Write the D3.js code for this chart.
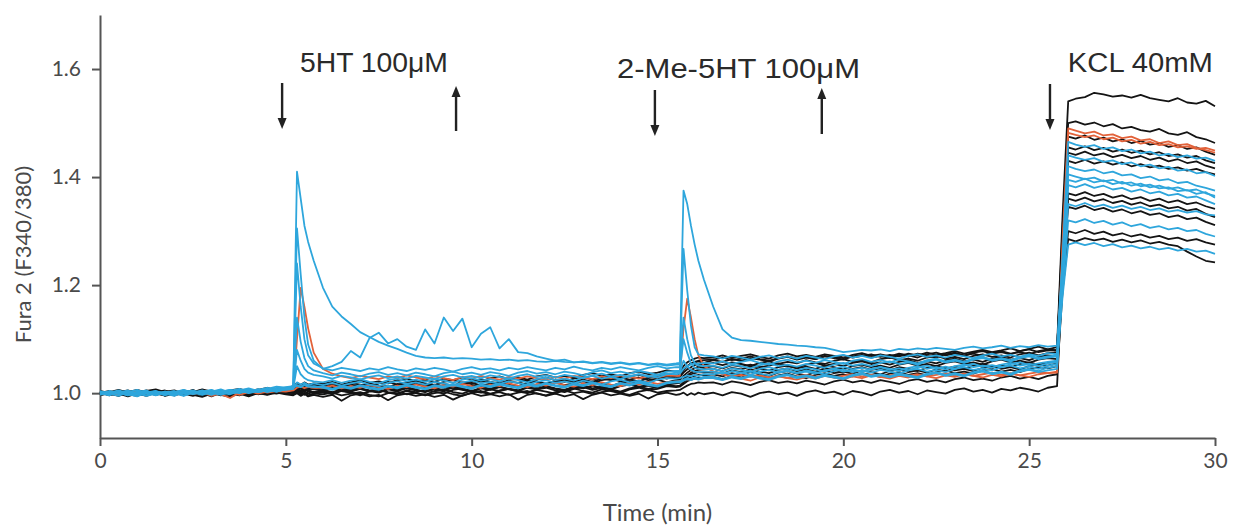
<!DOCTYPE html>
<html><head><meta charset="utf-8">
<script src="https://cdn.jsdelivr.net/npm/d3@7"></script>
<style>body{margin:0;background:#fff}svg{display:block;background:#fff}</style>
</head><body><svg id="chart" width="1235" height="529"></svg>
<script>
// ---------- DATA ----------
const times = [
0,0.25,0.5,0.75,1,1.25,1.5,1.75,2,2.25,2.5,2.75,3,3.25,3.5,3.75,4,4.25,4.5,4.75,5,
5.2,5.3,5.4,5.5,5.6,5.75,
6,6.25,6.5,6.75,7,7.25,7.5,7.75,8,8.25,8.5,8.75,9,9.25,9.5,9.75,10,10.25,10.5,10.75,11,11.25,11.5,11.75,12,12.25,12.5,12.75,13,13.25,13.5,13.75,14,14.25,14.5,14.75,15,15.25,15.5,
15.6,15.7,15.8,15.9,16,16.1,16.25,
16.5,16.75,17,17.25,17.5,17.75,18,18.25,18.5,18.75,19,19.25,19.5,19.75,20,20.25,20.5,20.75,21,21.25,21.5,21.75,22,22.25,22.5,22.75,23,23.25,23.5,23.75,24,24.25,24.5,24.75,25,25.25,25.5,25.75,
25.9,26.05,26.25,26.5,26.75,27,27.25,27.5,27.75,28,28.25,28.5,28.75,29,29.25,29.5,29.75,30
];

// black traces
const k1 = [
1.002,0.998,1.004,0.997,1.001,1.005,0.999,0.996,1.003,1.000,1.006,0.998,1.002,1.004,0.999,1.003,1.007,1.001,1.005,1.008,1.006,
1.010,1.017,1.013,1.018,1.012,1.016,
1.013,1.018,1.014,1.019,1.016,1.012,1.018,1.021,1.016,1.019,1.023,1.018,1.015,1.021,1.024,1.019,1.022,1.026,1.021,1.018,1.024,1.027,1.022,1.025,1.029,1.024,1.021,1.027,1.030,1.025,1.029,1.033,1.027,1.031,1.034,1.029,1.032,1.036,1.033,
1.036,1.044,1.050,1.055,1.057,1.059,1.056,
1.061,1.058,1.063,1.060,1.065,1.062,1.059,1.064,1.067,1.062,1.066,1.063,1.068,1.065,1.070,1.066,1.069,1.072,1.067,1.071,1.068,1.073,1.070,1.075,1.071,1.074,1.078,1.073,1.077,1.080,1.076,1.079,1.083,1.078,1.082,1.086,1.081,1.085,
1.330,1.540,1.545,1.548,1.556,1.553,1.549,1.551,1.547,1.552,1.546,1.543,1.540,1.546,1.538,1.536,1.541,1.531];
const k2 = [
0.999,1.003,0.996,1.001,1.004,0.998,1.002,1.005,0.997,1.001,0.999,1.004,1.000,0.996,1.003,1.006,1.000,1.004,1.002,1.007,1.004,
1.006,1.012,1.008,1.013,1.009,1.011,
1.008,1.013,1.009,1.006,1.012,1.015,1.010,1.013,1.009,1.014,1.017,1.012,1.016,1.013,1.010,1.016,1.019,1.014,1.017,1.021,1.016,1.013,1.019,1.022,1.017,1.020,1.024,1.019,1.022,1.018,1.024,1.027,1.022,1.025,1.029,1.024,1.027,1.031,1.028,
1.030,1.038,1.044,1.048,1.052,1.054,1.053,
1.056,1.052,1.057,1.054,1.050,1.056,1.059,1.054,1.058,1.055,1.061,1.057,1.054,1.060,1.063,1.058,1.061,1.057,1.063,1.066,1.061,1.064,1.060,1.066,1.069,1.064,1.067,1.063,1.069,1.072,1.067,1.070,1.066,1.072,1.075,1.070,1.074,1.076,
1.310,1.500,1.503,1.497,1.501,1.494,1.498,1.490,1.493,1.487,1.484,1.489,1.481,1.478,1.483,1.474,1.470,1.463];
const k3 = [
1.001,0.997,1.002,1.005,0.999,0.995,1.001,1.003,0.998,1.004,1.000,0.996,1.002,1.005,0.998,1.001,1.004,0.999,1.006,1.003,1.005,
1.004,1.009,1.005,1.010,1.006,1.008,
1.005,1.010,1.006,1.011,1.008,1.004,1.010,1.013,1.008,1.011,1.007,1.012,1.015,1.010,1.013,1.009,1.015,1.012,1.008,1.014,1.017,1.012,1.015,1.011,1.017,1.020,1.015,1.018,1.014,1.020,1.017,1.013,1.019,1.022,1.018,1.021,1.025,1.020,1.024,
1.025,1.032,1.038,1.043,1.046,1.049,1.047,
1.050,1.046,1.052,1.049,1.053,1.048,1.051,1.055,1.050,1.047,1.053,1.056,1.051,1.054,1.050,1.056,1.059,1.054,1.057,1.053,1.058,1.061,1.056,1.059,1.055,1.061,1.064,1.059,1.062,1.058,1.064,1.067,1.062,1.065,1.061,1.067,1.070,1.068,
1.290,1.475,1.471,1.477,1.469,1.473,1.466,1.470,1.463,1.467,1.460,1.463,1.456,1.459,1.452,1.455,1.447,1.441];
const k4 = [
1.004,1.000,0.996,1.002,1.006,1.001,0.997,1.003,1.005,0.999,1.002,1.006,0.998,1.003,1.001,0.997,1.004,1.007,1.001,1.005,1.008,
1.011,1.016,1.012,1.009,1.015,1.013,
1.010,1.015,1.011,1.016,1.013,1.018,1.014,1.011,1.017,1.014,1.019,1.016,1.021,1.017,1.014,1.020,1.017,1.022,1.019,1.016,1.022,1.019,1.024,1.020,1.017,1.023,1.026,1.022,1.025,1.021,1.027,1.024,1.029,1.025,1.022,1.028,1.031,1.027,1.032,
1.033,1.042,1.050,1.055,1.058,1.060,1.061,
1.062,1.066,1.061,1.064,1.068,1.063,1.060,1.065,1.068,1.064,1.067,1.063,1.069,1.066,1.062,1.068,1.071,1.066,1.069,1.065,1.071,1.068,1.073,1.069,1.066,1.072,1.075,1.070,1.073,1.069,1.075,1.078,1.073,1.076,1.072,1.078,1.081,1.079,
1.290,1.455,1.451,1.457,1.450,1.454,1.447,1.451,1.445,1.449,1.442,1.446,1.439,1.442,1.436,1.439,1.431,1.426];
const k5 = [
0.997,1.001,1.004,0.998,0.995,1.002,1.005,0.999,1.001,0.996,1.003,1.000,0.994,1.001,1.004,0.999,0.997,1.002,1.000,1.004,1.002,
1.003,1.007,1.002,1.006,1.004,1.001,
1.004,1.000,1.006,1.003,1.008,1.004,1.001,1.007,1.004,1.009,1.005,1.002,1.008,1.005,1.010,1.006,1.003,1.009,1.006,1.011,1.007,1.004,1.010,1.007,1.012,1.008,1.005,1.011,1.014,1.009,1.012,1.008,1.014,1.017,1.012,1.015,1.011,1.017,1.020,
1.020,1.026,1.031,1.035,1.037,1.039,1.038,
1.040,1.036,1.042,1.039,1.044,1.040,1.037,1.043,1.046,1.041,1.044,1.040,1.046,1.043,1.039,1.045,1.048,1.043,1.046,1.042,1.048,1.045,1.041,1.047,1.050,1.046,1.049,1.045,1.051,1.054,1.049,1.052,1.048,1.054,1.057,1.053,1.056,1.059,
1.280,1.445,1.441,1.447,1.440,1.444,1.437,1.441,1.435,1.439,1.432,1.436,1.429,1.433,1.426,1.429,1.421,1.416];
const k6 = [
1.000,1.004,0.999,0.994,1.000,1.003,0.997,1.001,0.996,1.002,0.998,1.001,1.004,0.997,0.993,1.000,1.003,0.998,1.001,0.999,1.003,
1.000,1.005,1.001,0.997,1.003,1.000,
1.002,0.998,1.004,1.001,0.996,1.003,1.006,1.001,0.998,1.004,1.000,0.997,1.004,1.007,1.002,0.999,1.005,1.002,0.998,1.005,1.008,1.003,1.000,1.006,1.003,0.999,1.006,1.009,1.004,1.001,1.007,1.004,1.000,1.007,1.010,1.005,1.008,1.013,1.011,
1.012,1.017,1.022,1.025,1.027,1.029,1.028,
1.030,1.026,1.032,1.029,1.034,1.030,1.027,1.033,1.036,1.031,1.028,1.034,1.037,1.032,1.035,1.031,1.037,1.034,1.030,1.036,1.039,1.034,1.037,1.033,1.039,1.042,1.037,1.040,1.036,1.042,1.045,1.040,1.043,1.039,1.045,1.048,1.046,1.050,
1.250,1.370,1.366,1.372,1.365,1.369,1.362,1.366,1.359,1.363,1.356,1.360,1.353,1.357,1.350,1.353,1.346,1.341];
const k7 = [
1.003,0.998,1.001,1.004,0.997,0.999,1.003,0.995,0.999,1.002,0.997,0.993,0.999,1.002,0.996,0.999,0.994,1.000,0.997,1.001,0.998,
0.996,1.000,0.995,0.999,0.994,0.997,
0.993,0.997,0.986,0.996,0.999,0.994,0.997,0.987,0.996,0.999,0.995,0.998,0.993,0.997,0.988,0.996,1.000,0.995,0.998,0.994,0.998,0.988,0.997,1.000,0.995,0.999,0.994,0.998,0.989,0.997,1.001,0.996,0.999,0.995,0.999,0.990,0.998,1.001,0.997,
0.998,1.001,0.996,1.000,0.997,1.001,0.998,
1.001,0.996,1.002,0.999,0.993,1.000,1.003,0.998,1.001,0.995,1.002,1.005,1.000,1.003,0.997,1.004,1.001,0.996,1.003,1.006,1.001,1.004,0.998,1.005,1.002,0.999,1.006,1.009,1.003,1.006,1.001,1.008,1.005,1.010,1.007,1.003,1.010,1.013,
1.220,1.345,1.341,1.347,1.339,1.343,1.336,1.340,1.333,1.337,1.330,1.333,1.326,1.329,1.322,1.325,1.317,1.311];
const k8 = [
0.998,1.002,1.006,1.001,0.998,1.004,1.007,1.002,0.999,1.005,1.002,1.007,1.003,0.999,1.005,1.008,1.003,1.006,1.010,1.005,1.009,
1.013,1.019,1.015,1.020,1.016,1.018,
1.017,1.021,1.016,1.020,1.024,1.019,1.022,1.018,1.024,1.027,1.022,1.025,1.021,1.027,1.024,1.029,1.025,1.022,1.028,1.031,1.026,1.029,1.025,1.031,1.034,1.029,1.032,1.028,1.034,1.037,1.032,1.035,1.031,1.037,1.040,1.035,1.038,1.042,1.040,
1.041,1.050,1.057,1.061,1.064,1.066,1.065,
1.066,1.070,1.065,1.069,1.072,1.067,1.064,1.070,1.073,1.068,1.071,1.067,1.072,1.069,1.065,1.071,1.074,1.069,1.072,1.068,1.073,1.070,1.066,1.072,1.075,1.070,1.073,1.069,1.075,1.078,1.073,1.076,1.072,1.078,1.081,1.076,1.079,1.080,
1.280,1.430,1.426,1.432,1.425,1.429,1.423,1.427,1.420,1.424,1.418,1.421,1.415,1.418,1.412,1.415,1.409,1.405];
const k9 = [
1.001,0.996,1.000,1.003,0.998,1.002,0.999,1.004,1.000,0.997,1.003,0.999,1.002,1.005,1.000,0.996,1.002,1.004,0.999,1.003,1.001,
1.004,1.008,1.003,1.007,1.005,1.002,
1.006,1.002,1.007,1.004,1.009,1.005,1.002,1.008,1.005,1.010,1.006,1.003,1.009,1.006,1.011,1.007,1.004,1.010,1.007,1.012,1.008,1.005,1.011,1.008,1.013,1.009,1.006,1.012,1.009,1.014,1.010,1.007,1.013,1.016,1.011,1.014,1.010,1.016,1.018,
1.019,1.026,1.033,1.038,1.041,1.043,1.044,
1.045,1.041,1.047,1.044,1.049,1.045,1.042,1.048,1.051,1.046,1.049,1.045,1.051,1.048,1.044,1.050,1.053,1.048,1.051,1.047,1.053,1.056,1.051,1.054,1.050,1.056,1.059,1.054,1.057,1.053,1.059,1.062,1.057,1.060,1.056,1.062,1.065,1.063,
1.230,1.360,1.356,1.362,1.355,1.359,1.352,1.356,1.349,1.353,1.346,1.349,1.342,1.345,1.338,1.341,1.332,1.326];
const k10 = [
0.996,1.000,1.003,0.999,1.002,0.997,1.004,1.000,1.003,0.998,1.001,1.005,0.999,1.002,0.998,1.003,1.000,1.005,1.002,1.000,1.004,
1.001,1.005,1.000,1.004,0.999,1.003,
1.003,0.999,1.005,1.001,0.998,1.004,1.007,1.002,0.999,1.005,1.002,1.006,1.003,0.999,1.006,1.009,1.004,1.001,1.007,1.004,1.008,1.005,1.001,1.007,1.010,1.005,1.002,1.008,1.011,1.006,1.010,1.007,1.003,1.009,1.012,1.008,1.011,1.015,1.013,
1.014,1.020,1.026,1.030,1.032,1.034,1.033,
1.035,1.031,1.037,1.034,1.039,1.035,1.032,1.038,1.041,1.036,1.033,1.039,1.042,1.037,1.040,1.036,1.042,1.039,1.035,1.041,1.044,1.039,1.042,1.038,1.044,1.047,1.042,1.045,1.041,1.047,1.050,1.045,1.048,1.044,1.050,1.053,1.051,1.055,
1.200,1.300,1.296,1.302,1.295,1.299,1.292,1.296,1.290,1.294,1.288,1.291,1.285,1.288,1.282,1.285,1.279,1.275];
const k11 = [
1.002,0.999,0.995,1.001,1.003,0.998,1.000,0.996,1.002,0.999,0.995,1.001,0.998,1.002,0.997,1.000,0.996,1.001,0.998,1.002,0.999,
0.998,1.002,0.997,1.001,0.996,0.999,
0.998,1.001,0.996,0.999,1.002,0.997,0.994,1.000,1.003,0.998,1.001,0.996,1.000,1.003,0.998,0.995,1.001,1.004,0.999,1.002,0.997,1.001,1.004,0.999,0.996,1.002,1.005,1.000,1.003,0.998,1.002,1.005,1.000,0.997,1.003,1.006,1.001,1.004,1.005,
1.006,1.010,1.014,1.017,1.018,1.020,1.019,
1.020,1.016,1.022,1.019,1.015,1.021,1.024,1.019,1.022,1.018,1.023,1.020,1.016,1.022,1.025,1.020,1.023,1.019,1.024,1.021,1.017,1.023,1.026,1.021,1.024,1.020,1.026,1.029,1.024,1.027,1.023,1.029,1.032,1.027,1.030,1.026,1.032,1.035,
1.190,1.285,1.281,1.287,1.283,1.286,1.280,1.284,1.279,1.283,1.277,1.280,1.275,1.272,1.262,1.253,1.245,1.242];

// orange traces
const o1 = [
1.001,0.998,1.002,1.000,0.997,1.003,0.999,1.002,0.996,1.000,1.003,0.999,1.002,0.998,0.991,1.001,1.004,0.999,1.003,1.006,1.004,
1.006,1.100,1.195,1.160,1.120,1.075,
1.045,1.036,1.031,1.028,1.032,1.029,1.026,1.031,1.028,1.033,1.029,1.026,1.031,1.028,1.024,1.030,1.027,1.032,1.028,1.025,1.030,1.027,1.031,1.028,1.025,1.030,1.027,1.032,1.029,1.026,1.031,1.028,1.033,1.030,1.027,1.032,1.029,1.033,1.032,
1.032,1.120,1.175,1.140,1.100,1.070,1.050,
1.040,1.035,1.031,1.034,1.030,1.033,1.029,1.032,1.028,1.031,1.034,1.030,1.033,1.029,1.032,1.035,1.031,1.034,1.030,1.033,1.036,1.032,1.035,1.031,1.034,1.037,1.033,1.036,1.032,1.035,1.038,1.034,1.037,1.033,1.036,1.039,1.037,1.040,
1.280,1.490,1.486,1.481,1.484,1.477,1.479,1.472,1.475,1.468,1.470,1.463,1.466,1.459,1.461,1.454,1.450,1.445];
const o2 = [
0.999,1.002,0.997,1.001,1.004,0.999,1.002,0.998,1.001,1.004,0.998,1.002,0.995,1.000,1.003,0.997,1.002,1.005,1.001,1.004,1.003,
1.005,1.010,1.013,1.009,1.012,1.010,
1.010,1.014,1.009,1.013,1.010,1.015,1.011,1.008,1.014,1.011,1.016,1.012,1.009,1.015,1.012,1.017,1.013,1.010,1.016,1.013,1.018,1.014,1.011,1.017,1.014,1.019,1.015,1.012,1.018,1.015,1.020,1.016,1.013,1.019,1.016,1.021,1.017,1.020,1.022,
1.022,1.024,1.026,1.025,1.027,1.026,1.028,
1.028,1.025,1.030,1.027,1.023,1.029,1.026,1.031,1.028,1.025,1.030,1.027,1.032,1.029,1.026,1.031,1.028,1.033,1.030,1.027,1.032,1.029,1.034,1.031,1.028,1.033,1.030,1.035,1.032,1.029,1.034,1.031,1.036,1.033,1.030,1.035,1.037,1.038,
1.270,1.482,1.478,1.474,1.477,1.470,1.473,1.466,1.469,1.462,1.465,1.459,1.461,1.455,1.457,1.452,1.454,1.449];

// blue traces
const b1 = [
1.000,0.996,1.003,0.998,0.994,1.001,1.004,0.999,0.995,1.002,1.005,0.999,1.003,1.007,1.001,1.005,1.009,1.004,1.008,1.012,1.010,
1.012,1.410,1.360,1.310,1.280,1.245,
1.195,1.160,1.142,1.128,1.113,1.104,1.095,1.088,1.082,1.075,1.069,1.066,1.065,1.066,1.064,1.065,1.064,1.062,1.063,1.061,1.062,1.060,1.061,1.059,1.058,1.060,1.058,1.057,1.059,1.056,1.058,1.055,1.057,1.054,1.056,1.053,1.055,1.053,1.055,
1.056,1.375,1.350,1.310,1.275,1.245,1.210,
1.160,1.118,1.103,1.098,1.097,1.095,1.093,1.091,1.090,1.088,1.087,1.085,1.084,1.080,1.076,1.078,1.080,1.079,1.081,1.078,1.082,1.080,1.083,1.081,1.084,1.082,1.080,1.084,1.086,1.083,1.085,1.088,1.084,1.087,1.085,1.089,1.086,1.088,
1.250,1.440,1.436,1.432,1.435,1.428,1.431,1.424,1.427,1.420,1.423,1.416,1.419,1.412,1.414,1.407,1.409,1.402];
const b2 = [
1.003,0.999,0.995,1.002,1.006,1.000,0.997,1.003,1.001,0.996,1.001,1.005,0.999,1.002,1.006,1.002,1.007,1.003,1.009,1.006,1.011,
1.013,1.305,1.220,1.140,1.090,1.060,
1.045,1.050,1.058,1.078,1.066,1.102,1.112,1.092,1.100,1.086,1.080,1.118,1.092,1.140,1.115,1.138,1.085,1.110,1.122,1.083,1.100,1.076,1.074,1.068,1.064,1.060,1.062,1.057,1.058,1.055,1.057,1.054,1.056,1.053,1.055,1.052,1.054,1.051,1.053,
1.053,1.267,1.190,1.125,1.085,1.072,1.070,
1.068,1.064,1.069,1.066,1.062,1.067,1.070,1.065,1.068,1.064,1.069,1.066,1.063,1.068,1.071,1.066,1.069,1.065,1.070,1.067,1.064,1.069,1.072,1.067,1.070,1.066,1.071,1.068,1.065,1.070,1.073,1.068,1.071,1.067,1.072,1.069,1.074,1.072,
1.240,1.405,1.401,1.396,1.399,1.392,1.395,1.388,1.390,1.383,1.386,1.379,1.381,1.374,1.376,1.369,1.372,1.362];
const b3 = [
0.998,1.002,0.999,1.004,1.000,0.995,0.999,1.003,0.998,1.002,0.998,1.003,1.006,1.000,1.004,1.008,1.003,1.007,1.004,1.010,1.008,
1.010,1.240,1.160,1.100,1.070,1.055,
1.046,1.042,1.047,1.044,1.041,1.046,1.043,1.048,1.044,1.041,1.046,1.043,1.047,1.044,1.040,1.045,1.048,1.044,1.046,1.042,1.047,1.044,1.048,1.045,1.042,1.047,1.044,1.049,1.045,1.042,1.047,1.044,1.048,1.045,1.042,1.047,1.050,1.046,1.048,
1.048,1.140,1.100,1.070,1.056,1.051,1.050,
1.051,1.047,1.053,1.050,1.046,1.052,1.055,1.050,1.053,1.049,1.054,1.051,1.047,1.053,1.056,1.051,1.054,1.050,1.056,1.059,1.054,1.057,1.053,1.059,1.062,1.057,1.060,1.056,1.062,1.065,1.060,1.063,1.059,1.065,1.068,1.063,1.066,1.068,
1.230,1.420,1.415,1.411,1.414,1.407,1.410,1.403,1.405,1.398,1.401,1.394,1.396,1.389,1.391,1.384,1.380,1.375];
const b4 = [
1.001,0.997,1.002,0.997,1.003,0.999,1.004,0.998,1.002,1.006,1.001,0.997,1.003,1.005,0.999,1.004,1.002,1.006,1.010,1.005,1.009,
1.011,1.140,1.095,1.065,1.050,1.042,
1.037,1.033,1.038,1.035,1.031,1.036,1.039,1.034,1.037,1.033,1.038,1.035,1.031,1.037,1.040,1.035,1.038,1.034,1.039,1.036,1.032,1.038,1.041,1.036,1.039,1.035,1.040,1.037,1.033,1.039,1.042,1.037,1.040,1.036,1.041,1.038,1.034,1.040,1.041,
1.041,1.100,1.075,1.055,1.047,1.045,1.044,
1.045,1.041,1.046,1.043,1.039,1.045,1.048,1.043,1.046,1.042,1.047,1.044,1.040,1.046,1.049,1.044,1.047,1.043,1.048,1.045,1.041,1.047,1.050,1.045,1.048,1.044,1.050,1.053,1.048,1.051,1.047,1.053,1.056,1.051,1.054,1.050,1.055,1.058,
1.180,1.275,1.279,1.274,1.278,1.272,1.276,1.270,1.273,1.268,1.271,1.266,1.269,1.264,1.267,1.262,1.264,1.258];
const b5 = [
0.999,1.004,1.000,0.996,1.002,1.005,0.998,1.001,0.997,1.002,1.004,1.000,1.004,0.999,1.003,1.000,1.006,1.002,1.005,1.008,1.006,
1.008,1.080,1.060,1.045,1.038,1.034,
1.031,1.027,1.032,1.029,1.025,1.030,1.033,1.028,1.031,1.027,1.032,1.029,1.026,1.031,1.034,1.029,1.032,1.028,1.033,1.030,1.027,1.032,1.035,1.030,1.033,1.029,1.034,1.031,1.028,1.033,1.036,1.031,1.034,1.030,1.035,1.032,1.029,1.035,1.038,
1.038,1.060,1.050,1.043,1.040,1.039,1.040,
1.040,1.036,1.041,1.038,1.034,1.040,1.043,1.038,1.041,1.037,1.042,1.039,1.035,1.041,1.044,1.039,1.042,1.038,1.043,1.040,1.036,1.042,1.045,1.040,1.043,1.039,1.045,1.048,1.043,1.046,1.042,1.048,1.051,1.046,1.049,1.045,1.051,1.054,
1.200,1.350,1.346,1.352,1.345,1.349,1.343,1.347,1.341,1.345,1.339,1.342,1.336,1.339,1.334,1.337,1.331,1.329];
const b6 = [
1.002,0.998,1.001,1.005,0.998,1.002,0.996,1.001,1.004,0.999,1.003,0.998,1.001,1.004,1.000,1.005,1.001,1.004,1.007,1.003,1.007,
1.009,1.020,1.016,1.019,1.015,1.018,
1.015,1.019,1.014,1.018,1.021,1.016,1.013,1.019,1.022,1.017,1.020,1.016,1.021,1.018,1.014,1.020,1.023,1.018,1.021,1.017,1.022,1.019,1.015,1.021,1.024,1.019,1.022,1.018,1.023,1.020,1.016,1.022,1.025,1.020,1.023,1.019,1.025,1.028,1.027,
1.028,1.030,1.033,1.031,1.034,1.032,1.035,
1.035,1.039,1.034,1.038,1.041,1.036,1.033,1.039,1.042,1.037,1.040,1.036,1.042,1.045,1.040,1.043,1.039,1.045,1.048,1.043,1.046,1.042,1.048,1.051,1.046,1.049,1.045,1.051,1.054,1.049,1.052,1.048,1.054,1.057,1.052,1.055,1.058,1.060,
1.250,1.465,1.460,1.456,1.459,1.452,1.455,1.448,1.451,1.444,1.447,1.440,1.443,1.437,1.440,1.434,1.436,1.430];
const b7 = [
0.997,1.001,1.005,1.000,0.997,1.003,1.001,0.996,1.002,1.005,0.999,1.002,0.997,1.003,1.006,1.001,1.003,1.007,1.002,1.006,1.009,
1.010,1.015,1.012,1.016,1.013,1.011,
1.012,1.008,1.013,1.010,1.015,1.011,1.008,1.014,1.011,1.016,1.012,1.009,1.015,1.012,1.017,1.013,1.010,1.016,1.013,1.018,1.014,1.011,1.017,1.014,1.019,1.015,1.012,1.018,1.015,1.020,1.016,1.013,1.019,1.016,1.021,1.017,1.014,1.020,1.022,
1.022,1.025,1.028,1.026,1.029,1.027,1.030,
1.030,1.026,1.031,1.028,1.033,1.029,1.026,1.032,1.035,1.030,1.033,1.029,1.034,1.031,1.028,1.034,1.037,1.032,1.035,1.031,1.036,1.033,1.030,1.036,1.039,1.034,1.037,1.033,1.039,1.042,1.037,1.040,1.036,1.042,1.045,1.041,1.047,1.050,
1.220,1.395,1.391,1.397,1.390,1.394,1.387,1.391,1.384,1.388,1.381,1.384,1.378,1.381,1.375,1.377,1.370,1.365];
const b8 = [
1.004,0.999,1.002,0.996,1.001,1.004,0.997,1.002,1.000,0.995,1.001,1.004,1.001,0.997,1.002,1.005,1.000,1.004,1.006,1.003,1.008,
1.009,1.050,1.035,1.028,1.024,1.022,
1.020,1.024,1.019,1.023,1.026,1.021,1.018,1.024,1.027,1.022,1.025,1.021,1.026,1.023,1.019,1.025,1.028,1.023,1.026,1.022,1.027,1.024,1.020,1.026,1.029,1.024,1.027,1.023,1.029,1.032,1.027,1.030,1.026,1.032,1.035,1.030,1.033,1.036,1.035,
1.036,1.045,1.050,1.053,1.055,1.054,1.056,
1.055,1.059,1.054,1.058,1.061,1.056,1.053,1.059,1.062,1.057,1.060,1.056,1.061,1.058,1.054,1.060,1.063,1.058,1.061,1.057,1.062,1.059,1.055,1.061,1.064,1.059,1.062,1.058,1.064,1.067,1.062,1.065,1.061,1.067,1.070,1.065,1.068,1.070,
1.190,1.320,1.316,1.322,1.315,1.319,1.312,1.316,1.309,1.313,1.306,1.309,1.303,1.306,1.300,1.302,1.295,1.290];
const b9 = [
1.000,1.003,0.998,1.002,1.000,0.996,1.003,1.000,0.997,1.003,0.999,1.002,1.005,1.001,0.998,1.003,1.006,1.002,1.005,1.004,1.008,
1.010,1.014,1.011,1.015,1.012,1.013,
1.010,1.006,1.011,1.008,1.013,1.009,1.006,1.012,1.009,1.014,1.010,1.007,1.013,1.010,1.015,1.011,1.008,1.014,1.011,1.016,1.012,1.009,1.015,1.012,1.017,1.013,1.010,1.016,1.013,1.018,1.014,1.011,1.017,1.014,1.019,1.015,1.012,1.018,1.020,
1.020,1.023,1.026,1.024,1.027,1.025,1.028,
1.028,1.024,1.029,1.026,1.031,1.027,1.024,1.030,1.033,1.028,1.031,1.027,1.032,1.029,1.026,1.032,1.035,1.030,1.033,1.029,1.034,1.031,1.028,1.034,1.037,1.032,1.035,1.031,1.037,1.040,1.035,1.038,1.034,1.040,1.043,1.039,1.042,1.045,
1.210,1.385,1.381,1.387,1.380,1.384,1.377,1.380,1.373,1.377,1.370,1.373,1.366,1.369,1.362,1.364,1.357,1.350];

const blackTraces = [k1,k2,k3,k4,k5,k6,k7,k8,k9,k10,k11];
const orangeTraces = [o1,o2];
const blueTraces = [b1,b2,b3,b4,b5,b6,b7,b8,b9];

const xTicks = [0,5,10,15,20,25,30];
const yTicks = [1.0,1.2,1.4,1.6];
const yTickLabels = ["1.0","1.2","1.4","1.6"];
const xTitle = "Time (min)";
const yTitle = "Fura 2 (F340/380)";
const annotationLabels = ["5HT 100\u03bcM","2-Me-5HT 100\u03bcM","KCL 40mM"];
const annotationTimes = [5.38, 13.91, 26.04];
const arrowTimes = [4.90, 9.58, 14.93, 19.42, 25.56];
const arrowDirs = ["down","up","down","up","down"];

// ---------- DRAW ----------
(function draw(){
const svg = d3.select("#chart");
const mLeft = 100, mRight = 1215, mTop = 15, mBottom = 438;
const x = d3.scaleLinear().domain([0,30]).range([mLeft,mRight]);
const y = d3.scaleLinear().domain([0.917,1.70]).range([mBottom,mTop]);

const axisColor = "#555";
const labelColor = "#4a4a4a";
const tickFont = "Lato, 'Open Sans', sans-serif";

const gx = svg.append("g").attr("transform",`translate(0,${mBottom})`)
  .call(d3.axisBottom(x).tickValues(xTicks).tickFormat(d3.format("d")).tickSize(8).tickSizeOuter(0).tickPadding(7));
const gy = svg.append("g").attr("transform",`translate(${mLeft},0)`)
  .call(d3.axisLeft(y).tickValues(yTicks).tickFormat((d,i)=>yTickLabels[i]).tickSize(8).tickSizeOuter(0).tickPadding(11));
[gx,gy].forEach(g=>{
  g.select(".domain").attr("stroke",axisColor).attr("stroke-width",2);
  g.selectAll(".tick line").attr("stroke",axisColor).attr("stroke-width",2);
  g.selectAll(".tick text").attr("fill",labelColor).style("font-family",tickFont).style("font-size","21px");
});

svg.append("text").attr("x",(mLeft+mRight)/2).attr("y",521).attr("text-anchor","middle")
  .attr("fill",labelColor).style("font-family",tickFont).style("font-size","24px").text(xTitle);
svg.append("text").attr("transform",`translate(31,${(mTop+mBottom)/2+28}) rotate(-90)`).attr("text-anchor","middle")
  .attr("fill",labelColor).style("font-family",tickFont).style("font-size","22px").text(yTitle);

const line = d3.line().x((d,i)=>x(times[i])).y(d=>y(d));
const n = times.length;
function drawGroup(arr, color, w){
  arr.forEach((s,si)=>{
    if (s.length !== n) console.error("length mismatch", color, si, s.length, n);
    svg.append("path").datum(s.slice(0,n)).attr("d",line)
      .attr("fill","none").attr("stroke",color).attr("stroke-width",w)
      .attr("stroke-linejoin","round");
  });
}
drawGroup(blackTraces, "#141414", 1.8);
drawGroup(orangeTraces, "#e2623a", 1.8);
drawGroup(blueTraces, "#2ea6dc", 1.8);

const annY = [72, 78, 72];
const annW = [148, 243, 145];
annotationLabels.forEach((t,i)=>{
  svg.append("text").attr("x",x(annotationTimes[i])).attr("y",annY[i])
    .attr("textLength",annW[i]).attr("lengthAdjust","spacingAndGlyphs")
    .attr("fill","#2a2a2a").style("font-family","'Liberation Sans', Arial, sans-serif").style("font-size","27px").text(t);
});
const arrowSpans = [[83,129],[86,131],[90,136],[88,134],[84,130]];
arrowTimes.forEach((t,i)=>{
  const ax = x(t), [y0,y1] = arrowSpans[i];
  const g = svg.append("g");
  if (arrowDirs[i]==="down"){
    g.append("line").attr("x1",ax).attr("x2",ax).attr("y1",y0).attr("y2",y1-8).attr("stroke","#222").attr("stroke-width",2.4);
    g.append("path").attr("d",`M${ax-4.5},${y1-11}L${ax+4.5},${y1-11}L${ax},${y1}Z`).attr("fill","#222");
  } else {
    g.append("line").attr("x1",ax).attr("x2",ax).attr("y1",y0+8).attr("y2",y1).attr("stroke","#222").attr("stroke-width",2.4);
    g.append("path").attr("d",`M${ax-4.5},${y0+11}L${ax+4.5},${y0+11}L${ax},${y0}Z`).attr("fill","#222");
  }
});
})();
</script></body></html>
